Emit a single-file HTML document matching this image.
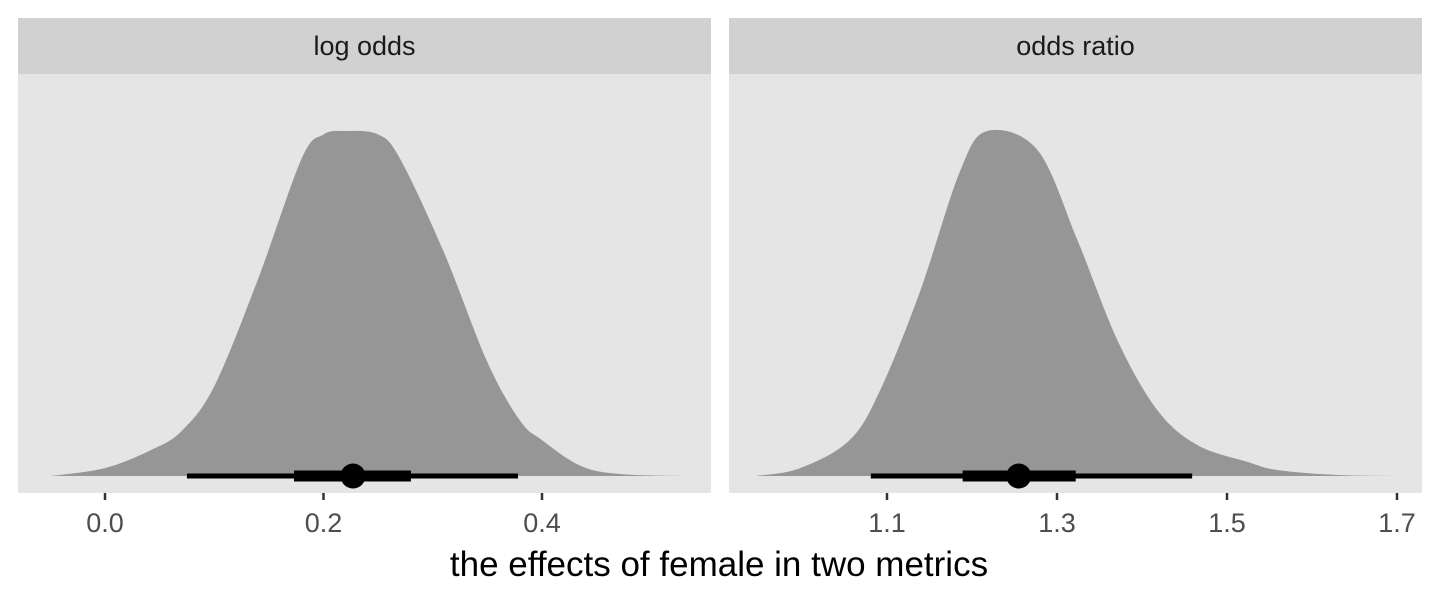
<!DOCTYPE html>
<html><head><meta charset="utf-8"><style>
body{margin:0;background:#fff;}
svg{display:block;font-family:"Liberation Sans",sans-serif;}
</style></head><body>
<svg id="chart" width="1440" height="600"></svg>
<script>
// Left panel: log odds
const leftX = [-0.05,0,0.042,0.07,0.1,0.14,0.18,0.2,0.22,0.25,0.27,0.31,0.35,0.38,0.4,0.435,0.47,0.53];
const leftD = [0,0.023,0.075,0.13,0.26,0.57,0.92,0.99,1,0.99,0.92,0.65,0.33,0.16,0.104,0.03,0.006,0];
const leftInterval = [0.075,0.173,0.227,0.28,0.378]; // lo95, lo66, median, hi66, hi95
const leftTicks = [0.0,0.2,0.4];
const leftTickLabels = ["0.0","0.2","0.4"];
// Right panel: odds ratio
const rightX = [0.946,0.998,1.056,1.092,1.139,1.186,1.218,1.277,1.324,1.371,1.418,1.465,1.524,1.56,1.63,1.708];
const rightD = [0,0.023,0.104,0.249,0.536,0.884,1,0.945,0.684,0.394,0.191,0.09,0.041,0.017,0.003,0];
const rightInterval = [1.081,1.189,1.255,1.322,1.459];
const rightTicks = [1.1,1.3,1.5,1.7];
const rightTickLabels = ["1.1","1.3","1.5","1.7"];

const NS="http://www.w3.org/2000/svg";
const svg=document.getElementById('chart');
function mk(tag,attrs,parent){const e=document.createElementNS(NS,tag);for(const k in attrs)e.setAttribute(k,attrs[k]);(parent||svg).appendChild(e);return e;}
const plotTop=74,plotBottom=493,base=476,peakH=345;
function panel(name,x0,x1,title,xs,ds,iv,ticks,labels,scale){
  const g=mk('g',{});
  
  
  const bg=mk('rect',{x:x0,y:plotTop,width:x1-x0,height:plotBottom-plotTop,fill:'#e5e5e5'},g);
  
  
  const st=mk('rect',{x:x0,y:18,width:x1-x0,height:plotTop-18,fill:'#d1d1d1'},g);
  
  
  const tt=mk('text',{x:(x0+x1)/2,y:55,'text-anchor':'middle','font-size':27,fill:'#1a1a1a'},g);
  tt.textContent=title;
  
  
  const pts=xs.map((v,i)=>[scale(v),base-ds[i]*peakH]);
  let d='M'+pts[0][0]+','+base+' L'+pts[0][0]+','+pts[0][1];
  for(let i=0;i<pts.length-1;i++){
    const p0=pts[Math.max(0,i-1)],p1=pts[i],p2=pts[i+1],p3=pts[Math.min(pts.length-1,i+2)];
    const c1=[p1[0]+(p2[0]-p0[0])/6,p1[1]+(p2[1]-p0[1])/6];
    const c2=[p2[0]-(p3[0]-p1[0])/6,p2[1]-(p3[1]-p1[1])/6];
    d+=` C${c1[0]},${Math.min(base,c1[1])} ${c2[0]},${Math.min(base,c2[1])} ${p2[0]},${p2[1]}`;
  }
  d+=' L'+pts[pts.length-1][0]+','+base+' Z';
  const dp=mk('path',{d:d,fill:'#969696'},g);
  
  
  const l95=mk('line',{x1:scale(iv[0]),x2:scale(iv[4]),y1:base,y2:base,stroke:'#000','stroke-width':5},g);
  
  
  const l66=mk('line',{x1:scale(iv[1]),x2:scale(iv[3]),y1:base,y2:base,stroke:'#000','stroke-width':11},g);
  
  
  const pt=mk('circle',{cx:scale(iv[2]),cy:base,r:12.5,fill:'#000'},g);
  
  
  ticks.forEach((t,i)=>{
    const x=scale(t);
    const tk=mk('line',{x1:x,x2:x,y1:plotBottom,y2:500,stroke:'#333','stroke-width':2.5},g);
    
    
    const tl=mk('text',{x:x,y:532,'text-anchor':'middle','font-size':27,fill:'#4d4d4d'},g);
    tl.textContent=labels[i];
    
    
  });
}
panel('log-odds',18,711,'log odds',leftX,leftD,leftInterval,leftTicks,leftTickLabels,v=>105+(v-0)*1092.5);
panel('odds-ratio',729,1422,'odds ratio',rightX,rightD,rightInterval,rightTicks,rightTickLabels,v=>887+(v-1.1)*850);
const xt=mk('text',{x:719,y:576,'text-anchor':'middle','font-size':35,fill:'#000'});
xt.textContent='the effects of female in two metrics';


</script>
</body></html>
